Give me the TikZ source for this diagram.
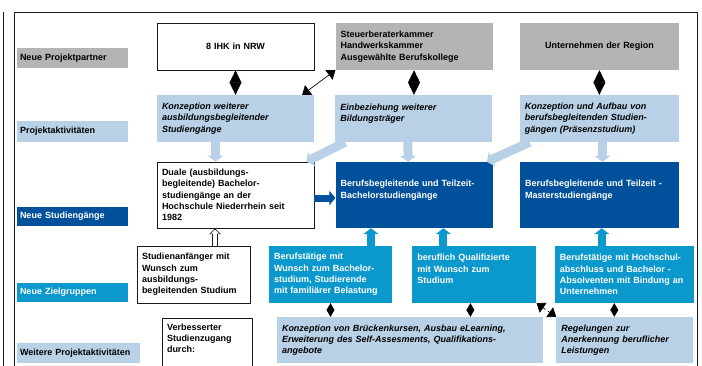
\documentclass[tikz,border=0pt]{standalone}
\usepackage{fontspec}
\setmainfont{Liberation Sans}
\usepackage{xcolor}
\definecolor{mainDark}{HTML}{1A1A1A}
\definecolor{partnerGray}{HTML}{B4B4B4}
\definecolor{activBlue}{HTML}{B9D1E7}
\definecolor{courseBlue}{HTML}{00509C}
\definecolor{targetBlue}{HTML}{0B98CC}
\usepackage{tikz}
\usetikzlibrary{shapes,arrows,positioning,calc,arrows.meta}
\tikzset{%
  baseBox/.style={%
    rectangle,
    inner xsep=5pt,
    inner ysep=3pt,
    align=left,
    font=\fontsize{9}{11.3}\selectfont\bfseries
  },
  whiteBox/.style={%
    baseBox,
    draw=mainDark,
    line width=0.8pt,
    fill=white
  },
  partnerBox/.style={%
    baseBox,
    fill=partnerGray,
    minimum height=47pt
  },
  activBox/.style={%
    baseBox,
    fill=activBlue,
    font=\fontsize{9}{11.3}\selectfont\bfseries\itshape
  },
  courseBox/.style={%
    baseBox,
    fill=courseBlue,
    text=white,
    minimum height=66pt
  },
  targetBox/.style={%
    baseBox,
    fill=targetBlue,
    text=white,
    minimum height=57pt
  },
  rowLabel/.style={%
    baseBox,
    inner xsep=3pt,
    text width=105pt,
    minimum height=20pt
  },
  softArrow/.style={%
    -{Triangle[length=6pt,width=16pt]},
    line width=9pt,
    color=activBlue
  },
  courseArrow/.style={%
    -{Triangle[length=6pt,width=14pt]},
    line width=7pt,
    color=courseBlue
  },
  targetArrow/.style={%
    -{Triangle[length=6pt,width=15pt]},
    line width=8pt,
    color=targetBlue
  },
  hollowArrow/.style={%
    -{Triangle[length=4pt,width=8pt]},
    line width=4pt,
    color=white,
    shorten >=1.1pt,
    preaction={draw=mainDark, line width=6pt, shorten >=0pt, -{Triangle[length=5.8pt,width=11.5pt]}}
  },
  pairLink/.style={%
    {Triangle[length=12.5pt,width=12pt]}-{Triangle[length=12.5pt,width=12pt]},
    line width=0.4pt,
    color=black
  },
  smallLink/.style={%
    {Triangle[length=7pt,width=8pt]}-{Triangle[length=7pt,width=8pt]},
    line width=0.4pt,
    color=black
  },
  crossLink/.style={%
    {Triangle[length=8pt,width=12pt]}-{Triangle[length=8pt,width=12pt]},
    line width=0.7pt,
    color=black
  },
  frameLine/.style={%
    draw=mainDark,
    line width=0.8pt
  }
}

\begin{document}
\begin{tikzpicture}[x=1pt,y=-1pt,node distance=21pt]
            \useasboundingbox (0,0) rectangle (702,365);
            \draw[frameLine] (3,12) -- (3,380);
            \draw[frameLine] (14,380) -- (14,12) -- (697,12) -- (697,380);

            \node[rowLabel, fill=partnerGray] (lblPartner) at (72.5,58) {Neue Projektpartner};
            \node[rowLabel, fill=activBlue, minimum height=21pt] (lblActiv) at (72.5,131.5) {Projektaktivitäten};
            \node[rowLabel, fill=courseBlue, text=white, minimum height=19pt] (lblCourse) at (72.5,216.5) {Neue Studiengänge};
            \node[rowLabel, fill=targetBlue, text=white, minimum height=19pt] (lblTarget) at (72.5,292.5) {Neue Zielgruppen};
            \node[rowLabel, fill=activBlue, text width=117pt] (lblMore) at (78.5,353) {Weitere Projektaktivitäten};

            \node[whiteBox, text width=147pt, minimum height=47pt, align=center] (ihk) at (235.5,46.5) {8 IHK in NRW};
            \node[partnerBox, text width=147pt, right=21pt of ihk] (kammer) {Steuerberaterkammer\\Handwerkskammer\\Ausgewählte Berufskollege};
            \node[partnerBox, text width=149pt, align=center, right=27pt of kammer] (region) {Unternehmen der Region};

            \node[activBox, text width=147pt, minimum height=47pt] (konzWeiter) at (235.5,118.5) {Konzeption weiterer\\ausbildungsbegleitender\\Studiengänge};
            \node[activBox, text width=147pt, minimum height=47pt, right=21pt of konzWeiter] (einbez) {Einbeziehung weiterer\\Bildungsträger\\\mbox{}};
            \node[activBox, text width=149pt, minimum height=47pt, right=27pt of einbez] (aufbau) {Konzeption und Aufbau von\\berufsbegleitenden Studien-\\gängen (Präsenzstudium)};

            \node[whiteBox, text width=147pt, minimum height=66pt] (duale) at (235.5,195) {Duale (ausbildungs-\\begleitende) Bachelor-\\studiengänge an der\\Hochschule Niederrhein seit\\1982};
            \node[courseBox, text width=147pt, right=21pt of duale] (bachelor) {Berufsbegleitende und Teilzeit-\\Bachelorstudiengänge\\\mbox{}};
            \node[courseBox, text width=149pt, right=27pt of bachelor] (master) {Berufsbegleitende und Teilzeit -\\Masterstudiengänge\\\mbox{}};

            \node[whiteBox, text width=103pt, minimum height=57pt] (anfaenger) at (193.5,274.5) {Studienanfänger mit\\Wunsch zum\\ausbildungs-\\begleitenden Studium};
            \node[targetBox, text width=113pt] (berufTaetig) at (330.5,274.5) {Berufstätige mit\\Wunsch zum Bachelor-\\studium, Studierende\\mit familiärer Belastung};
            \node[targetBox, text width=114pt, right=20pt of berufTaetig] (qualif) {beruflich Qualifizierte\\mit Wunsch zum\\Studium\\\mbox{}};
            \node[targetBox, text width=129pt, right=18pt of qualif] (absolv) {Berufstätige mit Hochschul-\\abschluss und Bachelor -\\Absolventen mit Bindung an\\Unternehmen};

            \node[whiteBox, text width=80pt, minimum height=52pt] (zugang) at (207,344) {Verbesserter\\Studienzugang\\durch:\\\mbox{}};
            \node[activBox, text width=256pt, minimum height=46pt] (bruecke) at (410,340) {Konzeption von Brückenkursen, Ausbau eLearning,\\Erweiterung des Self-Assesments, Qualifikations-\\angebote};
            \node[activBox, text width=127pt, minimum height=46pt, right=13pt of bruecke] (anerk) {Regelungen zur\\Anerkennung beruflicher\\Leistungen};

            \draw[pairLink] (ihk) -- (konzWeiter);
            \draw[pairLink] (kammer) -- (einbez);
            \draw[pairLink] (region) -- (aufbau);
            \draw[crossLink] ([xshift=-12pt]konzWeiter.north east) -- (kammer.south west);

            \draw[softArrow] ([xshift=-20pt]konzWeiter.south) -- ([xshift=-20pt]duale.north);
            \draw[softArrow] ([xshift=-6pt]einbez.south) -- ([xshift=-6pt]bachelor.north);
            \draw[softArrow] ([xshift=3pt]aufbau.south) -- ([xshift=3pt]master.north);
            \draw[softArrow] ([xshift=10pt]einbez.south west) -- ([xshift=-8pt]duale.north east);
            \draw[softArrow] ([xshift=10pt]aufbau.south west) -- ([xshift=-6pt]bachelor.north east);

            \draw[courseArrow] ([yshift=-3pt]duale.east) -- ([yshift=-3pt]bachelor.west);

            \draw[hollowArrow] ([xshift=21.5pt]anfaenger.north) -- ([xshift=21.5pt]anfaenger.north |- duale.south);
            \draw[targetArrow] ([xshift=40.5pt]berufTaetig.north) -- ([xshift=40.5pt]berufTaetig.north |- bachelor.south);
            \draw[targetArrow] ([xshift=-31pt]qualif.north) -- ([xshift=-31pt]qualif.north |- bachelor.south);
            \draw[targetArrow] ([xshift=-22.5pt]absolv.north) -- ([xshift=-22.5pt]absolv.north |- master.south);

            \draw[smallLink] (berufTaetig.south) -- (berufTaetig.south |- bruecke.north);
            \draw[smallLink] ([xshift=-4pt]qualif.south) -- ([xshift=-4pt]qualif.south |- bruecke.north);
            \draw[smallLink] ([xshift=-10pt]absolv.south) -- ([xshift=-10pt]absolv.south |- anerk.north);
            \draw[crossLink, dashed] (qualif.south east) -- (anerk.north west);
        \end{tikzpicture}
\end{document}
